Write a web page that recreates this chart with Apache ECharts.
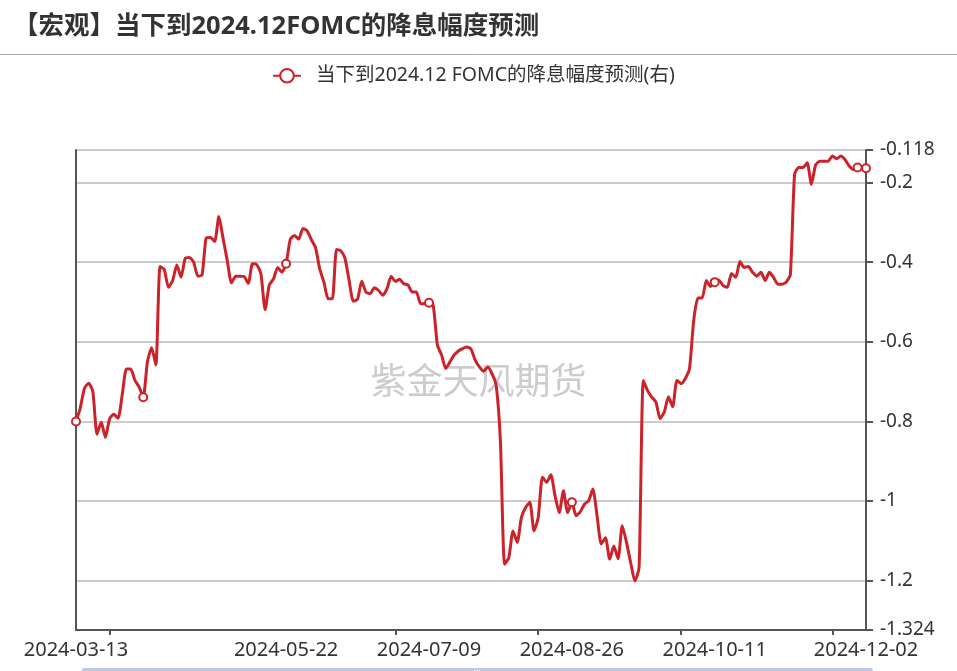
<!DOCTYPE html>
<html><head><meta charset="utf-8">
<script src="https://cdn.jsdelivr.net/npm/echarts@6/dist/echarts.min.js"></script>
<style>html,body{margin:0;padding:0;background:#fff}#c{width:957px;height:671px}</style>
</head><body><div id="c"></div>
<script>
const titleText = '【宏观】当下到2024.12FOMC的降息幅度预测';
const seriesName = '当下到2024.12 FOMC的降息幅度预测(右)';
const watermark = '紫金天风期货';
const dates = [
'2024-03-13','2024-03-14','2024-03-15','2024-03-18','2024-03-19','2024-03-20','2024-03-21','2024-03-22','2024-03-25','2024-03-26','2024-03-27','2024-03-28','2024-03-29',
'2024-04-01','2024-04-02','2024-04-03','2024-04-04','2024-04-05','2024-04-08','2024-04-09','2024-04-10','2024-04-11','2024-04-12','2024-04-15','2024-04-16','2024-04-17','2024-04-18','2024-04-19','2024-04-22','2024-04-23','2024-04-24','2024-04-25','2024-04-26','2024-04-29','2024-04-30',
'2024-05-01','2024-05-02','2024-05-03','2024-05-06','2024-05-07','2024-05-08','2024-05-09','2024-05-10','2024-05-13','2024-05-14','2024-05-15','2024-05-16','2024-05-17','2024-05-20','2024-05-21','2024-05-22','2024-05-23','2024-05-24','2024-05-27','2024-05-28','2024-05-29','2024-05-30','2024-05-31',
'2024-06-03','2024-06-04','2024-06-05','2024-06-06','2024-06-07','2024-06-10','2024-06-11','2024-06-12','2024-06-13','2024-06-14','2024-06-17','2024-06-18','2024-06-19','2024-06-20','2024-06-21','2024-06-24','2024-06-25','2024-06-26','2024-06-27','2024-06-28',
'2024-07-01','2024-07-02','2024-07-03','2024-07-04','2024-07-05','2024-07-08','2024-07-09','2024-07-10','2024-07-11','2024-07-12','2024-07-15','2024-07-16','2024-07-17','2024-07-18','2024-07-19','2024-07-22','2024-07-23','2024-07-24','2024-07-25','2024-07-26','2024-07-29','2024-07-30','2024-07-31',
'2024-08-01','2024-08-02','2024-08-05','2024-08-06','2024-08-07','2024-08-08','2024-08-09','2024-08-12','2024-08-13','2024-08-14','2024-08-15','2024-08-16','2024-08-19','2024-08-20','2024-08-21','2024-08-22','2024-08-23','2024-08-26','2024-08-27','2024-08-28','2024-08-29','2024-08-30',
'2024-09-02','2024-09-03','2024-09-04','2024-09-05','2024-09-06','2024-09-09','2024-09-10','2024-09-11','2024-09-12','2024-09-13','2024-09-16','2024-09-17','2024-09-18','2024-09-19','2024-09-20','2024-09-23','2024-09-24','2024-09-25','2024-09-26','2024-09-27','2024-09-30',
'2024-10-01','2024-10-02','2024-10-03','2024-10-04','2024-10-07','2024-10-08','2024-10-09','2024-10-10','2024-10-11','2024-10-14','2024-10-15','2024-10-16','2024-10-17','2024-10-18','2024-10-21','2024-10-22','2024-10-23','2024-10-24','2024-10-25','2024-10-28','2024-10-29','2024-10-30','2024-10-31',
'2024-11-01','2024-11-04','2024-11-05','2024-11-06','2024-11-07','2024-11-08','2024-11-11','2024-11-12','2024-11-13','2024-11-14','2024-11-15','2024-11-18','2024-11-19','2024-11-20','2024-11-21','2024-11-22','2024-11-25','2024-11-26','2024-11-27','2024-11-28','2024-11-29',
'2024-12-02'
];
const values = [
-0.800,-0.767,-0.717,-0.704,-0.725,-0.832,-0.802,-0.840,-0.793,-0.782,
-0.792,-0.733,-0.668,-0.668,-0.696,-0.713,-0.739,-0.650,-0.615,-0.658,
-0.411,-0.418,-0.463,-0.446,-0.407,-0.438,-0.390,-0.388,-0.400,-0.435,
-0.432,-0.339,-0.338,-0.348,-0.285,-0.340,-0.396,-0.452,-0.435,-0.435,
-0.436,-0.453,-0.404,-0.406,-0.429,-0.519,-0.457,-0.442,-0.413,-0.425,
-0.404,-0.342,-0.333,-0.342,-0.315,-0.321,-0.343,-0.363,-0.417,-0.450,
-0.492,-0.492,-0.368,-0.371,-0.390,-0.446,-0.498,-0.493,-0.448,-0.475,
-0.479,-0.464,-0.471,-0.483,-0.467,-0.435,-0.448,-0.443,-0.454,-0.457,
-0.475,-0.475,-0.504,-0.504,-0.502,-0.508,-0.608,-0.633,-0.667,-0.650,
-0.633,-0.623,-0.617,-0.613,-0.618,-0.646,-0.663,-0.674,-0.663,-0.680,
-0.710,-0.850,-1.159,-1.142,-1.075,-1.104,-1.041,-1.016,-1.003,-1.075,
-1.041,-0.940,-0.953,-0.934,-0.987,-1.029,-0.974,-1.029,-1.003,-1.037,
-1.027,-1.008,-0.999,-0.970,-1.037,-1.108,-1.092,-1.146,-1.113,-1.145,
-1.062,-1.104,-1.155,-1.201,-1.167,-0.697,-0.722,-0.739,-0.751,-0.793,
-0.776,-0.738,-0.763,-0.697,-0.705,-0.692,-0.667,-0.546,-0.490,-0.490,
-0.446,-0.461,-0.450,-0.445,-0.459,-0.463,-0.428,-0.438,-0.398,-0.413,
-0.411,-0.425,-0.435,-0.425,-0.446,-0.425,-0.438,-0.455,-0.455,-0.450,
-0.431,-0.179,-0.162,-0.162,-0.150,-0.204,-0.156,-0.146,-0.146,-0.146,
-0.133,-0.140,-0.133,-0.142,-0.158,-0.167,-0.162,-0.165,-0.164
];
const labelIdx = [0, 50, 84, 118, 152, 188];
const tickIdx = [8, 76, 110, 144, 180];
const symbolIdx = [0, 16, 50, 84, 118, 152, 186, 188];
const yMin = -1.324, yMax = -0.118;

const FONT = "'Noto Sans','Noto Sans CJK SC',sans-serif";
const lineColor = '#cc2229';
const seriesData = values.map((v, i) => symbolIdx.includes(i) ? {value: v} : {value: v, symbol: 'none'});

const chart = echarts.init(document.getElementById('c'), null, {renderer: 'canvas'});
chart.setOption({
  animation: false,
  backgroundColor: '#fff',
  textStyle: {fontFamily: FONT},
  title: {
    text: titleText, left: 8, top: 9,
    textStyle: {fontSize: 25.5, fontWeight: 'bold', color: '#333', fontFamily: FONT}
  },
  graphic: [
    {type: 'line', shape: {x1: 0, y1: 54.5, x2: 957, y2: 54.5}, style: {stroke: '#aaa', lineWidth: 1}, z: 10},
    {type: 'text', left: 'center', top: 362, style: {text: watermark, fontSize: 36, fill: '#cccccc', fontFamily: "'Noto Sans CJK SC',sans-serif"}, z: 0}
  ],
  legend: {
    left: 267, top: 61,
    itemWidth: 28, itemHeight: 17, itemGap: 10,
    textStyle: {fontSize: 19.5, color: '#333', fontFamily: FONT, padding: [0, 0, 0, 10]},
    data: [seriesName]
  },
  grid: {left: 76, right: 91, top: 150, bottom: 41, containLabel: false},
  xAxis: {
    type: 'category', data: dates, boundaryGap: false,
    axisLine: {lineStyle: {color: '#555', width: 2}},
    axisTick: {show: true, length: 5, interval: (i) => tickIdx.includes(i), lineStyle: {color: '#555', width: 2}},
    axisLabel: {interval: (i) => labelIdx.includes(i), fontSize: 20, color: '#333', margin: 10, fontFamily: FONT},
    splitLine: {show: false}
  },
  yAxis: [
    {
      type: 'value', position: 'right', min: yMin, max: yMax,
      axisLine: {show: true, lineStyle: {color: '#555', width: 2}},
      axisTick: {show: true, length: 7, lineStyle: {color: '#555', width: 2}},
      axisLabel: {fontSize: 19, color: '#333', margin: 14, fontFamily: FONT},
      splitLine: {show: true, lineStyle: {color: '#cccccc', width: 2}}
    },
    {
      type: 'value', position: 'left', min: yMin, max: yMax,
      axisLine: {show: true, lineStyle: {color: '#555', width: 2}},
      axisTick: {show: false}, axisLabel: {show: false}, splitLine: {show: false}
    }
  ],
  dataZoom: [{type: 'slider', xAxisIndex: 0, start: 0, end: 100, left: 79, right: 87, top: 668, height: 30,
    showDetail: false, showDataShadow: false, borderColor: '#d7dde9', fillerColor: 'rgba(200,210,230,0.12)', backgroundColor: 'rgba(0,0,0,0)'}],
  series: [{
    name: seriesName, type: 'line', yAxisIndex: 0,
    data: seriesData,
    smooth: 0.2,
    symbol: 'emptyCircle', symbolSize: 8,
    showSymbol: true, showAllSymbol: true,
    lineStyle: {color: lineColor, width: 3, join: 'round'},
    itemStyle: {color: lineColor, borderColor: lineColor, borderWidth: 1.5},
    z: 5
  }]
});
</script></body></html>
